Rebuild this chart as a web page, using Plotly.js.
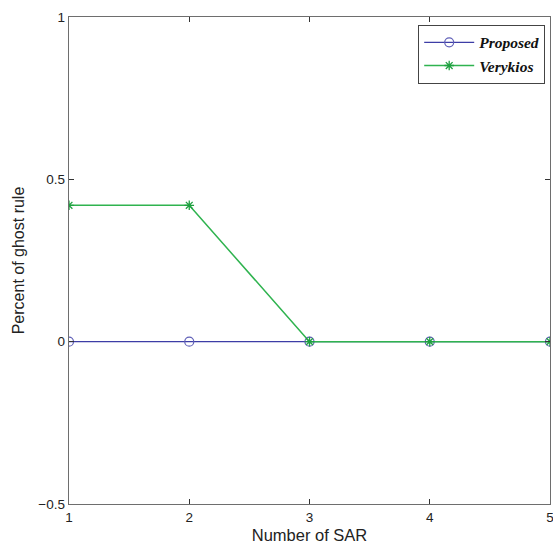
<!DOCTYPE html>
<html>
<head>
<meta charset="utf-8">
<script src="https://cdn.plot.ly/plotly-3.0.1.min.js"></script>
<style>html,body{margin:0;padding:0;background:#fff;}#chart{width:553px;height:550px;}</style>
</head>
<body>
<div id="chart"></div>
<script>
const xValues = [1, 2, 3, 4, 5];
const proposed = [0, 0, 0, 0, 0];
const verykios = [0.42, 0.42, 0, 0, 0];
const seriesNames = ['Proposed', 'Verykios'];
const xTicks = [1, 2, 3, 4, 5];
const yTicks = [-0.5, 0, 0.5, 1];
const yTickText = ['\u22120.5', '0', '0.5', '1'];

const traces = [
  {
    x: xValues, y: proposed, name: seriesNames[0], mode: 'lines+markers',
    line: {color: '#3d3da6', width: 1.3},
    marker: {symbol: 'circle-open', size: 9, color: '#6060b8', line: {width: 1.2}}
  },
  {
    x: xValues, y: verykios, name: seriesNames[1], mode: 'lines+markers',
    line: {color: '#2fb34f', width: 1.5},
    marker: {symbol: 'asterisk-open', size: 8, color: '#1fa040', line: {width: 1.3, color: '#1fa040'}}
  }
];

const axisCommon = {
  showgrid: false, zeroline: false, showline: true, mirror: 'ticks',
  linecolor: '#6e6e6e', linewidth: 1.3, ticks: 'inside', ticklen: 5,
  tickcolor: '#333', tickwidth: 1, ticklabeloverflow: 'allow',
  tickfont: {family: 'Liberation Sans, Arial, sans-serif', size: 13.5, color: '#222'}
};

const layout = {
  width: 553, height: 550,
  margin: {l: 69, r: 3, t: 17, b: 46},
  paper_bgcolor: '#fff', plot_bgcolor: '#fff',
  showlegend: true,
  legend: {
    x: 0.99, y: 0.984, xanchor: 'right', yanchor: 'top',
    bordercolor: '#444', borderwidth: 1, bgcolor: '#fff',
    font: {family: 'Liberation Serif, Times New Roman, serif', size: 15.5, color: '#111', weight: 'bold', style: 'italic'},
    tracegroupgap: 0, itemwidth: 50
  },
  xaxis: Object.assign({}, axisCommon, {
    range: [1, 5], tickvals: xTicks, ticktext: xTicks.map(String),
    title: {text: 'Number of SAR', font: {family: 'Liberation Sans, Arial, sans-serif', size: 16.5, color: '#222'}, standoff: 6}
  }),
  yaxis: Object.assign({}, axisCommon, {
    range: [-0.5, 1], tickvals: yTicks, ticktext: yTickText,
    title: {text: 'Percent of ghost rule', font: {family: 'Liberation Sans, Arial, sans-serif', size: 16, color: '#222'}, standoff: 9}
  })
};

Plotly.newPlot('chart', traces, layout, {displayModeBar: false, staticPlot: true});
</script>
</body>
</html>
